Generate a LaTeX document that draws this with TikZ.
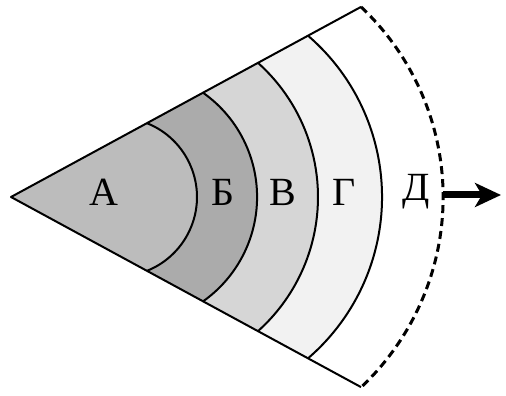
\documentclass[tikz,border=0pt]{standalone}
\usepackage{fontspec}
\newfontfamily\labfont{Liberation Serif}
\usetikzlibrary{arrows.meta}
\definecolor{cA}{HTML}{BCBCBC}
\definecolor{cB}{HTML}{ABABAB}
\definecolor{cV}{HTML}{D6D6D6}
\definecolor{cG}{HTML}{F2F2F2}
\tikzset{
  bound/.style={line width=2pt, line join=round},
  dashbound/.style={line width=3pt, dash pattern=on 8pt off 5pt},
  lab/.style={font=\labfont\fontsize{40}{40}\selectfont, inner sep=0pt},
  bigarrow/.style={line width=7pt, -{Stealth[length=26pt,width=24pt,inset=7pt]}}
}
\begin{document}
\begin{tikzpicture}[x=1pt,y=1pt]
\useasboundingbox (0,-199) rectangle (506,197);
% key points
\coordinate (apex) at (11,0);
\coordinate (t1) at (147,73.8);
\coordinate (t2) at (203,104.3);
\coordinate (t3) at (258,134.1);
\coordinate (t4) at (308,161.3);
\coordinate (t5) at (361,190.1);
\coordinate (b5) at (361,-190.1);
% fills (layered)
\fill[cG] (apex) -- (t4) arc[start angle=49.3, end angle=-49.3, radius=212.8] -- cycle;
\fill[cV] (apex) -- (t3) arc[start angle=48.2, end angle=-48.2, radius=179.9] -- cycle;
\fill[cB] (apex) -- (t2) arc[start angle=54.8, end angle=-54.8, radius=127.7] -- cycle;
\fill[cA] (apex) -- (t1) arc[start angle=68.2, end angle=-68.2, radius=79.5] -- cycle;
% boundaries
\draw[bound] (t5) -- (apex) -- (b5);
\draw[bound] (t1) arc[start angle=68.2, end angle=-68.2, radius=79.5];
\draw[bound] (t2) arc[start angle=54.8, end angle=-54.8, radius=127.7];
\draw[bound] (t3) arc[start angle=48.2, end angle=-48.2, radius=179.9];
\draw[bound] (t4) arc[start angle=49.3, end angle=-49.3, radius=212.8];
\draw[dashbound] (t5) arc[start angle=46.7, end angle=-46.7, radius=261.4];
% arrow
\coordinate (arrS) at (443,2);
\coordinate (arrE) at (501,2);
\draw[bigarrow] (arrS) -- (arrE);
% labels
\node[lab] (la) at (104,5) {А};
\node[lab] (lb) at (223,5) {Б};
\node[lab] (lv) at (283,5) {В};
\node[lab] (lg) at (344,5) {Г};
\node[lab] (ld) at (416,5) {Д};
\end{tikzpicture}
\end{document}
